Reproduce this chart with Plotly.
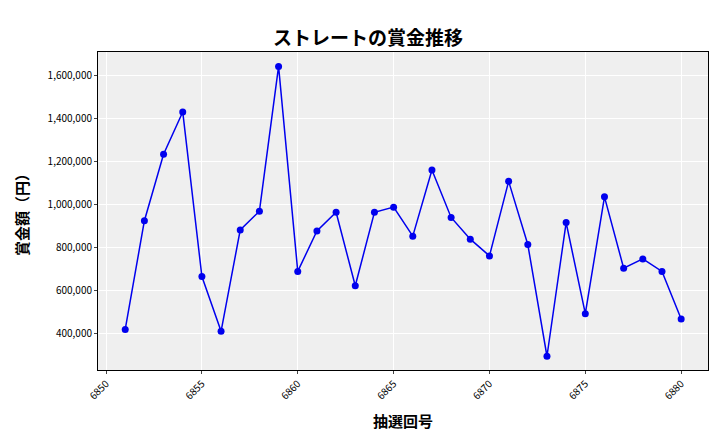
import plotly.graph_objects as go

draw_no = list(range(6851, 6881))
prize = [419000, 925000, 1234000, 1431000, 665000, 410000, 882000, 969000, 1643000, 689000,
         877000, 964000, 622000, 964000, 988000, 853000, 1161000, 940000, 839000, 761000,
         1108000, 814000, 294000, 916000, 492000, 1036000, 704000, 747000, 689000, 467000]

font = "Noto Sans CJK JP"

fig = go.Figure(go.Scatter(
    x=draw_no, y=prize, mode="lines+markers",
    line=dict(color="#0000ee", width=1.5),
    marker=dict(color="#0000ee", size=7),
))

fig.update_layout(
    width=720, height=432,
    paper_bgcolor="white", plot_bgcolor="#efefef",
    margin=dict(l=90, r=20, t=44, b=64),
    title=dict(text="ストレートの賞金推移", x=0.5, xanchor="center", y=0.945,
               font=dict(family=font, size=19, color="black", weight=600)),
    showlegend=False,
    font=dict(family=font, color="black"),
)
fig.update_xaxes(
    title=dict(text="抽選回号", font=dict(size=15, weight=600)),
    range=[6849.58, 6881.4], tickvals=list(range(6850, 6881, 5)),
    tickangle=-45, tickfont=dict(size=10),
    gridcolor="white", showline=True, linecolor="black", linewidth=1, mirror=True,
    ticks="outside", ticklen=3, zeroline=False,
)
fig.update_yaxes(
    title=dict(text="賞金額（円）", font=dict(size=15, weight=600)),
    range=[230000, 1710000], tickvals=[400000, 600000, 800000, 1000000, 1200000, 1400000, 1600000],
    tickformat=",d", tickfont=dict(size=10),
    gridcolor="white", showline=True, linecolor="black", linewidth=1, mirror=True,
    ticks="outside", ticklen=3, zeroline=False,
)

fig.write_html("out.html")
